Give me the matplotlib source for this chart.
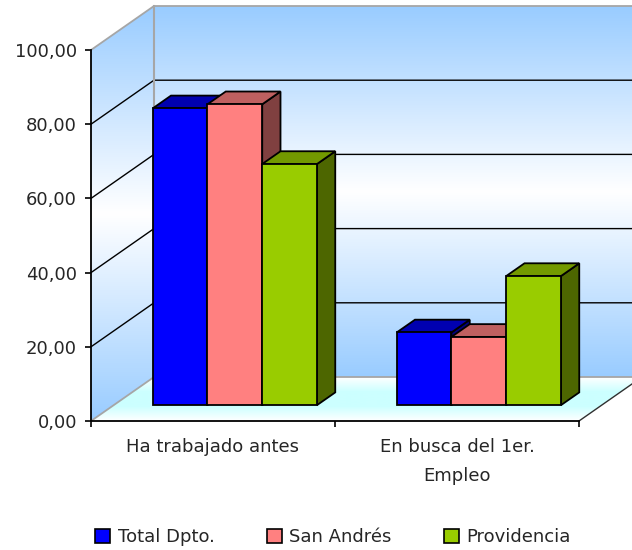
#!/usr/bin/env python
import numpy as np
import matplotlib
matplotlib.use('Agg')
import matplotlib.pyplot as plt
from matplotlib.colors import LinearSegmentedColormap
from matplotlib.patches import Patch, Polygon

categories = ['Ha trabajado antes', 'En busca del 1er.\nEmpleo']
series = ['Total Dpto.', 'San Andrés', 'Providencia']
total_dpto = [80.0, 19.6]
san_andres = [81.1, 18.4]
providencia = [65.0, 34.8]
y_ticks = [0, 20, 40, 60, 80, 100]
y_labels = ['0,00', '20,00', '40,00', '60,00', '80,00', '100,00']

front = ['#0000FF', '#FF8080', '#99CC00']
top = ['#0000B0', '#BF6060', '#739900']
side = ['#000080', '#804040', '#4D6600']

W, H = 632, 550
DX, DY = 63 / 244, 44 / 3.71      # depth of the box, in axis units
D0, D1 = 0.36, 0.65               # front and back of the bars inside the box
BAR = 0.2244
GAP = 0.1600
FS = 13

plt.rcParams['font.family'] = ['DejaVu Sans']
fig = plt.figure(figsize=(W / 100, H / 100), dpi=100)
ax = fig.add_axes([91 / W, 1 - 421 / H, 488 / W, 371 / H])
ax.set_xlim(0, 2)
ax.set_ylim(0, 100)


def prj(x, v, d):
    return x + d * DX, v + d * DY


def gradient(corners, stops, y0, y1):
    # vertical gradient between two axis heights, cut to the polygon
    cmap = LinearSegmentedColormap.from_list('g', stops)
    im = ax.imshow(np.linspace(0, 1, 256)[:, None], cmap=cmap, aspect='auto', origin='upper',
                   extent=(-0.5, 2.5, y0, y1), zorder=1, interpolation='bilinear')
    poly = Polygon(corners, transform=ax.transData, facecolor='none', edgecolor='none')
    ax.add_patch(poly)
    im.set_clip_box(fig.bbox)
    im.set_clip_path(poly)


wall = ['#99CCFF', '#FFFFFF', '#99CCFF']
gradient([prj(0, 0, 1), prj(2, 0, 1), prj(2, 100, 1), prj(0, 100, 1)], wall, DY, 100 + DY)
gradient([prj(0, 0, 0), prj(0, 0, 1), prj(0, 100, 1), prj(0, 100, 0)], wall, 0, 100 + DY)
gradient([prj(0, 0, 0), prj(2, 0, 0), prj(2, 0, 1), prj(0, 0, 1)],
         ['#FFFFFF', '#CCFFFF', '#CCFFFF', '#FFFFFF'], 0, DY)
ax.set_xlim(0, 2)
ax.set_ylim(0, 100)

# grid on both walls
for v in y_ticks:
    c, lw = ('#A6A6A6', 1.3) if v in (0, 100) else ('black', 1.0)
    xs, ys = zip(prj(0, v, 0), prj(0, v, 1), prj(2, v, 1))
    ax.plot(xs, ys, color=c, lw=lw, clip_on=False, zorder=2, solid_joinstyle='miter')
xs, ys = zip(prj(0, 0, 1), prj(0, 100, 1))
ax.plot(xs, ys, color='#A6A6A6', lw=1.5, clip_on=False, zorder=2)
xs, ys = zip(prj(2, 0, 1), prj(2, 0, 0))
ax.plot(xs, ys, color='#303030', lw=1.0, clip_on=False, zorder=2)

# bars, left to right so the later ones hide the earlier sides
z = 3
for c in range(len(categories)):
    for s, values in enumerate([total_dpto, san_andres, providencia]):
        x0 = c + GAP + s * BAR
        x1 = x0 + BAR
        v = values[c]
        faces = [
            ([prj(x1, 0, D0), prj(x1, 0, D1), prj(x1, v, D1), prj(x1, v, D0)], side[s]),
            ([prj(x0, v, D0), prj(x1, v, D0), prj(x1, v, D1), prj(x0, v, D1)], top[s]),
            ([prj(x0, 0, D0), prj(x1, 0, D0), prj(x1, v, D0), prj(x0, v, D0)], front[s]),
        ]
        for pts, col in faces:
            ax.add_patch(Polygon(pts, closed=True, facecolor=col, edgecolor='black', lw=1.3,
                                 clip_on=False, zorder=z, joinstyle='miter'))
            z += 1

for name in ('top', 'right'):
    ax.spines[name].set_visible(False)
for name in ('left', 'bottom'):
    ax.spines[name].set_linewidth(1.3)
    ax.spines[name].set_zorder(100)
ax.set_facecolor('none')

ax.set_yticks(y_ticks)
ax.set_yticklabels(y_labels, fontsize=FS, color='#262626')
ax.tick_params(axis='y', length=4, width=1.2, pad=6)
ax.set_xticks([0, 1, 2])
ax.set_xticklabels([])
ax.tick_params(axis='x', which='major', length=4, width=1.2)
ax.set_xticks([0.5, 1.5], minor=True)
ax.set_xticklabels(categories, minor=True, fontsize=FS, color='#262626', linespacing=1.75)
ax.tick_params(axis='x', which='minor', length=0, pad=12.5)

handles = [Patch(facecolor=front[i], edgecolor='black', lw=1.2, label=series[i]) for i in range(3)]
fig.legend(handles=handles, loc='center', bbox_to_anchor=(333 / W, 1 - 537 / H), ncol=3, frameon=False,
           prop={'size': FS}, labelcolor='#262626', handlelength=0.85, handleheight=0.85,
           handletextpad=0.4, columnspacing=2.9, borderpad=0)

fig.savefig('out.png', dpi=100)
